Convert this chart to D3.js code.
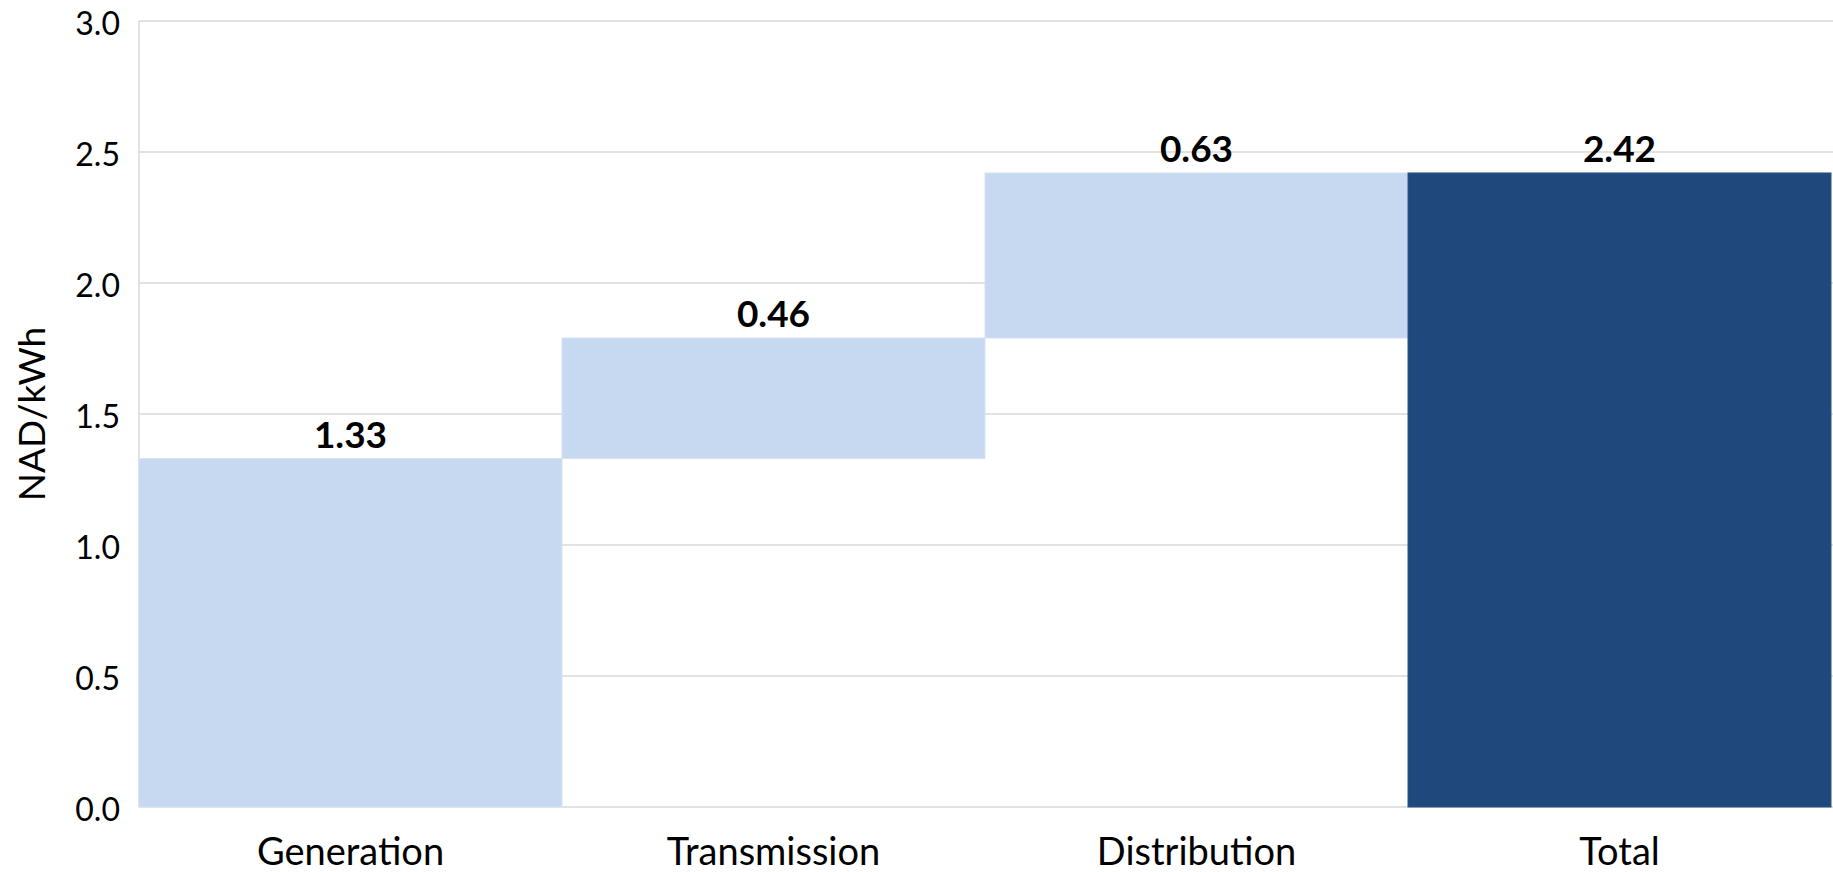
<!DOCTYPE html>
<html>
<head>
<meta charset="utf-8">
<script src="https://cdn.jsdelivr.net/npm/d3@7"></script>
<style>
  html, body { margin: 0; padding: 0; background: #ffffff; }
  svg { display: block; font-family: Lato, "Noto Sans", sans-serif; }
</style>
</head>
<body>
<svg id="chart" width="1833" height="872"></svg>
<script>
// Electricity cost build-up, NAD per kWh
const categories = ["Generation", "Transmission", "Distribution", "Total"];
const values = [1.33, 0.46, 0.63, 2.42];
const isTotal = [false, false, false, true];
const yTicks = [0, 0.5, 1.0, 1.5, 2.0, 2.5, 3.0];
const yTitle = "NAD/kWh";

const width = 1833, height = 872;
const margin = { top: 21, right: 2, bottom: 65, left: 139 };

const svg = d3.select("#chart");

// Waterfall steps: each component starts where the previous one ended,
// the total bar starts from zero.
let running = 0;
const steps = categories.map((c, i) => {
  const base = isTotal[i] ? 0 : running;
  const top = base + values[i];
  if (!isTotal[i]) running = top;
  return { category: c, value: values[i], base, top, total: isTotal[i] };
});

const x = d3.scaleBand()
  .domain(categories)
  .range([margin.left, width - margin.right])
  .paddingInner(0)
  .paddingOuter(0);

const y = d3.scaleLinear()
  .domain([0, 3.0])
  .range([height - margin.bottom, margin.top]);

// Horizontal gridlines
svg.append("g")
  .attr("class", "grid")
  .selectAll("line")
  .data(yTicks)
  .join("line")
  .attr("x1", margin.left)
  .attr("x2", width)
  .attr("y1", d => y(d))
  .attr("y2", d => y(d))
  .attr("stroke", "#d9d9d9")
  .attr("stroke-width", 1.5);

// Left axis line
svg.append("line")
  .attr("x1", margin.left)
  .attr("x2", margin.left)
  .attr("y1", y(3.0))
  .attr("y2", y(0))
  .attr("stroke", "#d9d9d9")
  .attr("stroke-width", 1.5);

// Y axis tick labels
const yAxis = d3.axisLeft(y)
  .tickValues(yTicks)
  .tickFormat(d3.format(".1f"))
  .tickSize(0)
  .tickPadding(19);

svg.append("g")
  .attr("transform", `translate(${margin.left},0)`)
  .call(yAxis)
  .call(g => g.select(".domain").remove())
  .call(g => g.selectAll("text")
    .attr("font-family", "Lato, 'Noto Sans', sans-serif")
    .attr("font-size", 32)
    .attr("fill", "#000")
    .attr("dy", "0.42em"));

// Bars
svg.append("g")
  .selectAll("rect")
  .data(steps)
  .join("rect")
  .attr("x", d => x(d.category))
  .attr("width", x.bandwidth())
  .attr("y", d => y(d.top))
  .attr("height", d => y(d.base) - y(d.top))
  .attr("fill", d => d.total ? "#1f497d" : "#c6d9f0")
  .attr("stroke", d => d.total ? "#2c5587" : "#d6e3f4")
  .attr("stroke-width", 1);

// Value labels above each bar
svg.append("g")
  .selectAll("text")
  .data(steps)
  .join("text")
  .attr("x", d => x(d.category) + x.bandwidth() / 2)
  .attr("y", d => y(d.top) - 11)
  .attr("text-anchor", "middle")
  .attr("font-size", 37)
  .attr("font-weight", "bold")
  .attr("fill", "#000")
  .text(d => d.value.toFixed(2));

// Category labels
const xAxis = d3.axisBottom(x).tickSize(0).tickPadding(31);
svg.append("g")
  .attr("transform", `translate(0,${y(0)})`)
  .call(xAxis)
  .call(g => g.select(".domain").remove())
  .call(g => g.selectAll("text")
    .attr("font-family", "Lato, 'Noto Sans', sans-serif")
    .attr("font-size", 38)
    .attr("fill", "#000")
    .attr("dy", "0.71em"));

// Y axis title
svg.append("text")
  .attr("transform", `translate(${32},${(y(0) + y(3.0)) / 2}) rotate(-90)`)
  .attr("text-anchor", "middle")
  .attr("dy", "0.35em")
  .attr("font-size", 37)
  .attr("fill", "#000")
  .text(yTitle);
</script>
</body>
</html>
